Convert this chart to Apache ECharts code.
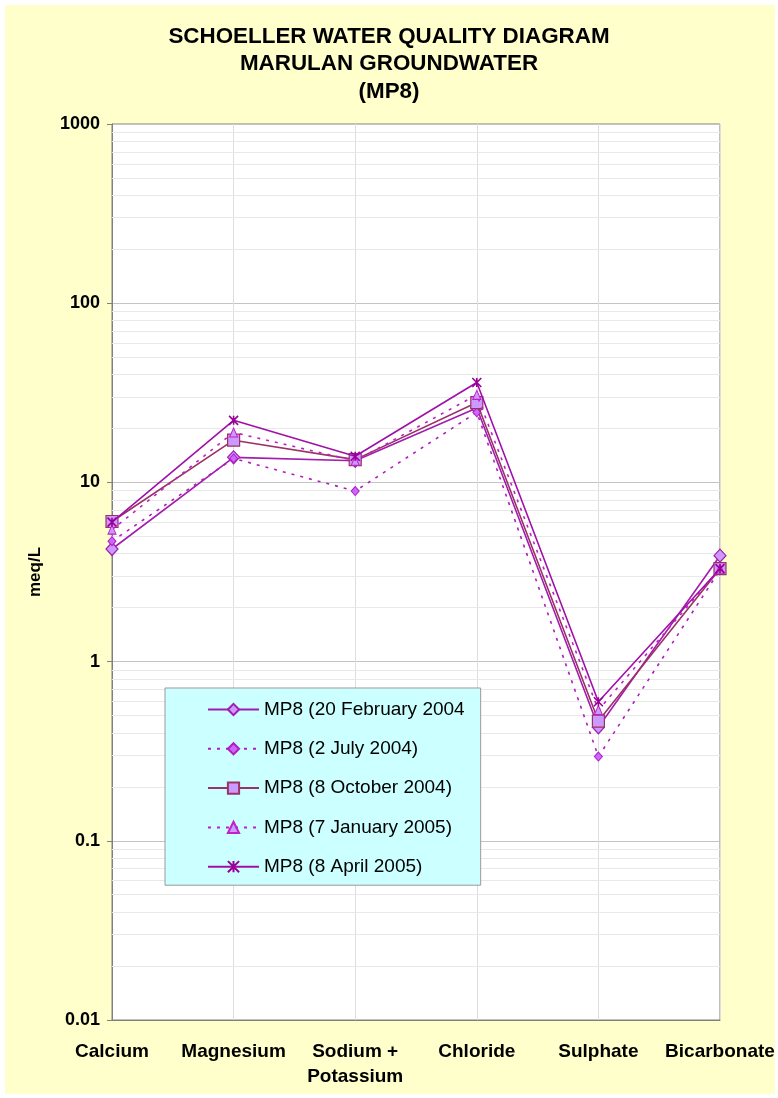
<!DOCTYPE html>
<html>
<head>
<meta charset="utf-8">
<script src="https://cdn.jsdelivr.net/npm/echarts@6/dist/echarts.min.js"></script>
<style>
  html, body { margin: 0; padding: 0; background: #ffffff; }
  #chart { width: 778px; height: 1098px; }
</style>
</head>
<body>
<div id="chart"></div>
<script>
// Major ions plotted on the Schoeller diagram
const categories = ['Calcium', 'Magnesium', 'Sodium +\nPotassium', 'Chloride', 'Sulphate', 'Bicarbonate'];

// Concentrations in meq/L for each sampling round at MP8
const feb2004 = [4.25, 13.8, 13.2, 26.0, 0.43, 3.9];
const jul2004 = [4.7, 13.6, 8.95, 24.6, 0.295, 3.25];
const oct2004 = [6.05, 17.2, 13.4, 27.9, 0.466, 3.3];
const jan2005 = [5.45, 19.0, 13.2, 30.8, 0.537, 3.3];
const apr2005 = [6.0, 22.2, 14.0, 36.1, 0.597, 3.3];

const seriesNames = [
  'MP8 (20 February 2004',
  'MP8 (2 July 2004)',
  'MP8 (8 October 2004)',
  'MP8 (7 January 2005)',
  'MP8 (8 April 2005)'
];

// Log-axis tick labels and the minor (2..9) gridline values per decade
const yTickLabels = ['0.01', '0.1', '1', '10', '100', '1000'];
const decadeStarts = [0.01, 0.1, 1, 10, 100];
const minorSteps = [2, 3, 4, 5, 6, 7, 8, 9];

const minorLines = [];
decadeStarts.forEach(d => minorSteps.forEach(m => {
  minorLines.push({ yAxis: +(d * m).toPrecision(3) });
}));

const starPath = 'path://M0,0L10,10M0,10L10,0M5,0L5,10';
const sans = '"Liberation Sans", Arial, sans-serif';

const chart = echarts.init(document.getElementById('chart'), null, { renderer: 'canvas' });

chart.setOption({
  backgroundColor: '#ffffff',
  animation: false,
  graphic: [{
    type: 'rect',
    z: -10,
    silent: true,
    shape: { x: 5, y: 5, width: 770, height: 1089 },
    style: { fill: '#FFFFCC' }
  }],
  title: {
    text: 'SCHOELLER WATER QUALITY DIAGRAM\nMARULAN GROUNDWATER\n(MP8)',
    left: 'center',
    top: 18,
    textStyle: {
      fontFamily: sans,
      fontWeight: 'bold',
      fontSize: 22.4,
      lineHeight: 27.5,
      color: '#000000'
    }
  },
  grid: {
    left: 112,
    right: 58,
    top: 124,
    bottom: 78,
    show: true,
    backgroundColor: '#ffffff',
    borderColor: '#808080',
    borderWidth: 1
  },
  legend: {
    data: seriesNames,
    orient: 'vertical',
    left: 165,
    top: 688,
    backgroundColor: '#CCFFFF',
    borderColor: '#999999',
    borderWidth: 1,
    padding: [12, 16, 9, 42],
    itemWidth: 51,
    itemHeight: 14,
    itemGap: 20.3,
    textStyle: {
      fontFamily: sans,
      fontSize: 19,
      lineHeight: 19,
      color: '#000000'
    }
  },
  xAxis: {
    type: 'category',
    data: categories,
    boundaryGap: false,
    axisLine: { show: true, lineStyle: { color: '#808080' } },
    axisTick: { show: false },
    splitLine: { show: true, lineStyle: { color: '#dedede', width: 1 } },
    axisLabel: {
      margin: 19,
      interval: 0,
      fontFamily: sans,
      fontWeight: 'bold',
      fontSize: 19,
      lineHeight: 25,
      color: '#000000'
    }
  },
  yAxis: {
    type: 'log',
    logBase: 10,
    min: 0.01,
    max: 1000,
    name: 'meq/L',
    nameLocation: 'middle',
    nameGap: 68,
    nameRotate: 90,
    nameTextStyle: {
      fontFamily: sans,
      fontWeight: 'bold',
      fontSize: 17,
      color: '#000000'
    },
    axisLine: { show: true, lineStyle: { color: '#808080' } },
    axisTick: { show: true, inside: false, length: 5, lineStyle: { color: '#808080' } },
    splitLine: { show: true, lineStyle: { color: '#c4c4c4', width: 1 } },
    axisLabel: {
      margin: 12,
      fontFamily: sans,
      fontWeight: 'bold',
      fontSize: 18,
      color: '#000000',
      formatter: function (v) {
        const i = Math.round(Math.log10(v)) + 2;
        return yTickLabels[i] !== undefined ? yTickLabels[i] : '';
      }
    }
  },
  series: [
    {
      name: 'minor-grid',
      type: 'line',
      data: [],
      silent: true,
      z: 1,
      markLine: {
        silent: true,
        z: 1,
        symbol: ['none', 'none'],
        label: { show: false },
        lineStyle: { color: '#e8e8e8', width: 1, type: 'solid' },
        emphasis: { disabled: true },
        data: minorLines
      }
    },
    {
      name: seriesNames[0],
      type: 'line',
      data: feb2004,
      z: 3,
      symbol: 'diamond',
      symbolSize: [12, 13],
      lineStyle: { color: '#A21CAF', width: 1.6, type: 'solid' },
      itemStyle: { color: '#CC99FF', borderColor: '#A21CAF', borderWidth: 1.2 }
    },
    {
      name: seriesNames[1],
      type: 'line',
      data: jul2004,
      z: 4,
      symbol: 'diamond',
      symbolSize: [8, 9],
      lineStyle: { color: '#B01CC0', width: 1.6, type: [3, 6] },
      itemStyle: { color: '#CC66FF', borderColor: '#B01CC0', borderWidth: 1 }
    },
    {
      name: seriesNames[2],
      type: 'line',
      data: oct2004,
      z: 5,
      symbol: 'rect',
      symbolSize: 12,
      lineStyle: { color: '#993366', width: 1.6, type: 'solid' },
      itemStyle: { color: '#CC99FF', borderColor: '#993366', borderWidth: 1.2 }
    },
    {
      name: seriesNames[3],
      type: 'line',
      data: jan2005,
      z: 6,
      symbol: 'triangle',
      symbolSize: [8, 9],
      lineStyle: { color: '#C020C8', width: 1.6, type: [3, 6] },
      itemStyle: { color: '#CC99FF', borderColor: '#C020C8', borderWidth: 1 }
    },
    {
      name: seriesNames[4],
      type: 'line',
      data: apr2005,
      z: 7,
      symbol: starPath,
      symbolSize: 9,
      lineStyle: { color: '#A010A8', width: 1.6, type: 'solid' },
      itemStyle: { color: 'rgba(0,0,0,0)', borderColor: '#990099', borderWidth: 1.6 }
    }
  ]
});
</script>
</body>
</html>
